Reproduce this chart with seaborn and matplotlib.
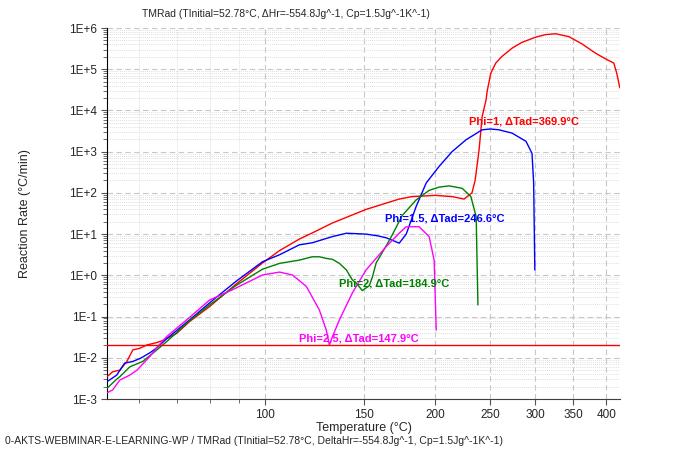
import numpy as np
import pandas as pd
import matplotlib
matplotlib.use("Agg")
import matplotlib.pyplot as plt
import matplotlib.ticker as mticker
import seaborn as sns

# Phi = 1
t_phi1 = [52.78, 54, 55.6, 57.2, 58.6, 60.3, 62, 64.6, 66.2, 70, 73.8, 80, 89, 99.2, 106.3,
          115.2, 121.4, 131.7, 151, 172.7, 182, 200, 214, 224.7, 232, 235, 238.8, 241.8,
          245.7, 246.7, 250.4, 255.5, 262, 273, 284, 300.8, 313, 326, 343.7, 362, 383, 399,
          412.5, 417.5, 422.7]
r_phi1 = [0.00347, 0.00457, 0.00501, 0.00813, 0.0155, 0.0170, 0.0204, 0.0234, 0.0263, 0.0389,
          0.0759, 0.174, 0.603, 2.0, 3.98, 7.59, 10.7, 18.6, 39.8, 70.8, 81.3, 87.1, 81.3,
          70.8, 100, 200, 1100, 7080, 18200, 28800, 79400, 141000, 204000, 324000, 447000,
          603000, 692000, 724000, 617000, 417000, 245000, 178000, 141000, 79400, 35500]

# Phi = 1.5
t_phi15 = [52.78, 54.9, 56.7, 58.6, 60.5, 62.8, 64.6, 67.2, 73.8, 80, 89, 99.2, 106.3, 115.2,
           121.4, 131.7, 139.4, 151, 158, 163.9, 170, 172.7, 177.7, 185, 192.7, 203, 214,
           226.6, 241.8, 250, 258.9, 273, 288.9, 296, 298, 299.4]
r_phi15 = [0.00263, 0.0038, 0.00741, 0.00813, 0.00977, 0.0132, 0.0174, 0.0288, 0.0832, 0.214,
           0.708, 2.14, 3.16, 5.5, 6.17, 8.71, 10.5, 10.0, 9.12, 8.13, 6.61, 6.03, 10.0, 46.8,
           174, 437, 1000, 1950, 3390, 3550, 3390, 2820, 1780, 912, 174, 1.35]

# Phi = 2
t_phi2 = [52.78, 54.9, 55.6, 57.9, 61, 64.6, 67.2, 73.8, 80, 89, 99.2, 106.3, 115.2, 121.4,
          124.9, 128.5, 131.7, 135.5, 139.4, 142.8, 145.1, 148.7, 153, 155, 157.3, 163.9,
          167.9, 174.8, 185, 195, 203, 211.5, 223, 231, 236, 237.7]
r_phi2 = [0.00182, 0.00302, 0.00347, 0.00603, 0.00813, 0.0155, 0.0245, 0.0794, 0.191, 0.562,
          1.41, 1.95, 2.34, 2.82, 2.82, 2.57, 2.45, 1.95, 1.35, 0.776, 0.646, 0.427, 0.562,
          0.933, 2.0, 5.25, 9.55, 28.2, 67.6, 115, 138, 148, 129, 81.3, 26.3, 0.191]

# Phi = 2.5
t_phi25 = [52.78, 54, 55.6, 57.9, 59.6, 62.8, 64.8, 67.2, 73.8, 80, 87.8, 99.2, 106.3, 112,
           118.5, 124.9, 128.5, 130.1, 131.7, 135.5, 142.8, 151, 163.9, 172.7, 177.7, 187.3,
           195, 199, 200.7]
r_phi25 = [0.00141, 0.00166, 0.00288, 0.0038, 0.00501, 0.0107, 0.0186, 0.0324, 0.0955, 0.251,
           0.447, 1.02, 1.2, 1.02, 0.537, 0.145, 0.0468, 0.0204, 0.0324, 0.0832, 0.372, 1.35,
           5.01, 10.5, 15.1, 15.1, 8.71, 2.34, 0.0468]

labels = ["Phi=1, \u0394Tad=369.9\u00b0C", "Phi=1.5, \u0394Tad=246.6\u00b0C",
          "Phi=2, \u0394Tad=184.9\u00b0C", "Phi=2.5, \u0394Tad=147.9\u00b0C"]
colors = ["#ff0000", "#0000ff", "#008000", "#ff00ff"]
label_pos = [(229, 5250), (163, 23.4), (135.5, 0.62), (115, 0.0286)]
limit_rate = 0.02

x_major = [100, 150, 200, 250, 300, 350, 400]
x_minor = [60, 70, 80, 90]

sns.set_style("white")
plt.rcParams['font.family'] = ['Liberation Sans', 'DejaVu Sans']

fig = plt.figure(figsize=(7, 4.5), dpi=100)
ax = fig.add_axes([107 / 700, 1 - 399 / 450, (620 - 107) / 700, (399 - 28) / 450])
ax.set_xscale('log')
ax.set_yscale('log')

series = [(t_phi1, r_phi1), (t_phi15, r_phi15), (t_phi2, r_phi2), (t_phi25, r_phi25)]
for (t, r), c in zip(series, colors):
    df = pd.DataFrame({'T': t, 'rate': r})
    sns.lineplot(data=df, x='T', y='rate', ax=ax, color=c, lw=1.0,
                 estimator=None, sort=False, zorder=3)

ax.axhline(limit_rate, color='#ff0000', lw=1.0, zorder=3)

for txt, (x, y), c in zip(labels, label_pos, colors):
    ax.text(x, y, txt, color=c, fontsize=8, fontweight='bold', ha='left', va='center', zorder=4)

ax.set_xlim(52.78, 423)
ax.set_ylim(1e-3, 1e6)

ax.xaxis.set_major_locator(mticker.FixedLocator(x_major))
ax.xaxis.set_major_formatter(mticker.FixedFormatter([str(v) for v in x_major]))
ax.xaxis.set_minor_locator(mticker.FixedLocator(x_minor))
ax.xaxis.set_minor_formatter(mticker.NullFormatter())
ax.yaxis.set_major_locator(mticker.LogLocator(base=10, numticks=20))
ax.yaxis.set_minor_locator(mticker.LogLocator(base=10, subs=np.arange(2, 10), numticks=20))
ax.yaxis.set_major_formatter(mticker.FuncFormatter(lambda v, p: f"1E{int(round(np.log10(v))):+d}"))
ax.yaxis.set_minor_formatter(mticker.NullFormatter())

ax.grid(which='major', ls=(0, (5, 3)), color='#c8c8c8', lw=0.8)
ax.grid(which='minor', ls=(0, (1, 1.5)), color='#d4d4d4', lw=0.6)

ax.tick_params(which='both', bottom=True, left=True, direction='out', color='#555555', labelsize=8.5)
ax.tick_params(which='major', length=4)
ax.tick_params(which='minor', length=3)

for s in ['top', 'right']:
    ax.spines[s].set_visible(False)
ax.spines['left'].set_color('black')
ax.spines['bottom'].set_color('#404040')

ax.set_xlabel('Temperature (\u00b0C)', fontsize=9, labelpad=0.5)
ax.set_ylabel('Reaction Rate (\u00b0C/min)', fontsize=9, labelpad=27)

fig.text(142 / 700, 1 - 14 / 450, "TMRad (TInitial=52.78\u00b0C, \u0394Hr=-554.8Jg^-1, Cp=1.5Jg^-1K^-1)",
         fontsize=7.5, va='center', ha='left')
fig.text(5 / 700, 1 - 441 / 450,
         "0-AKTS-WEBMINAR-E-LEARNING-WP / TMRad (TInitial=52.78\u00b0C, DeltaHr=-554.8Jg^-1, Cp=1.5Jg^-1K^-1)",
         fontsize=7.5, va='center', ha='left')

fig.savefig('out.png', dpi=100)
